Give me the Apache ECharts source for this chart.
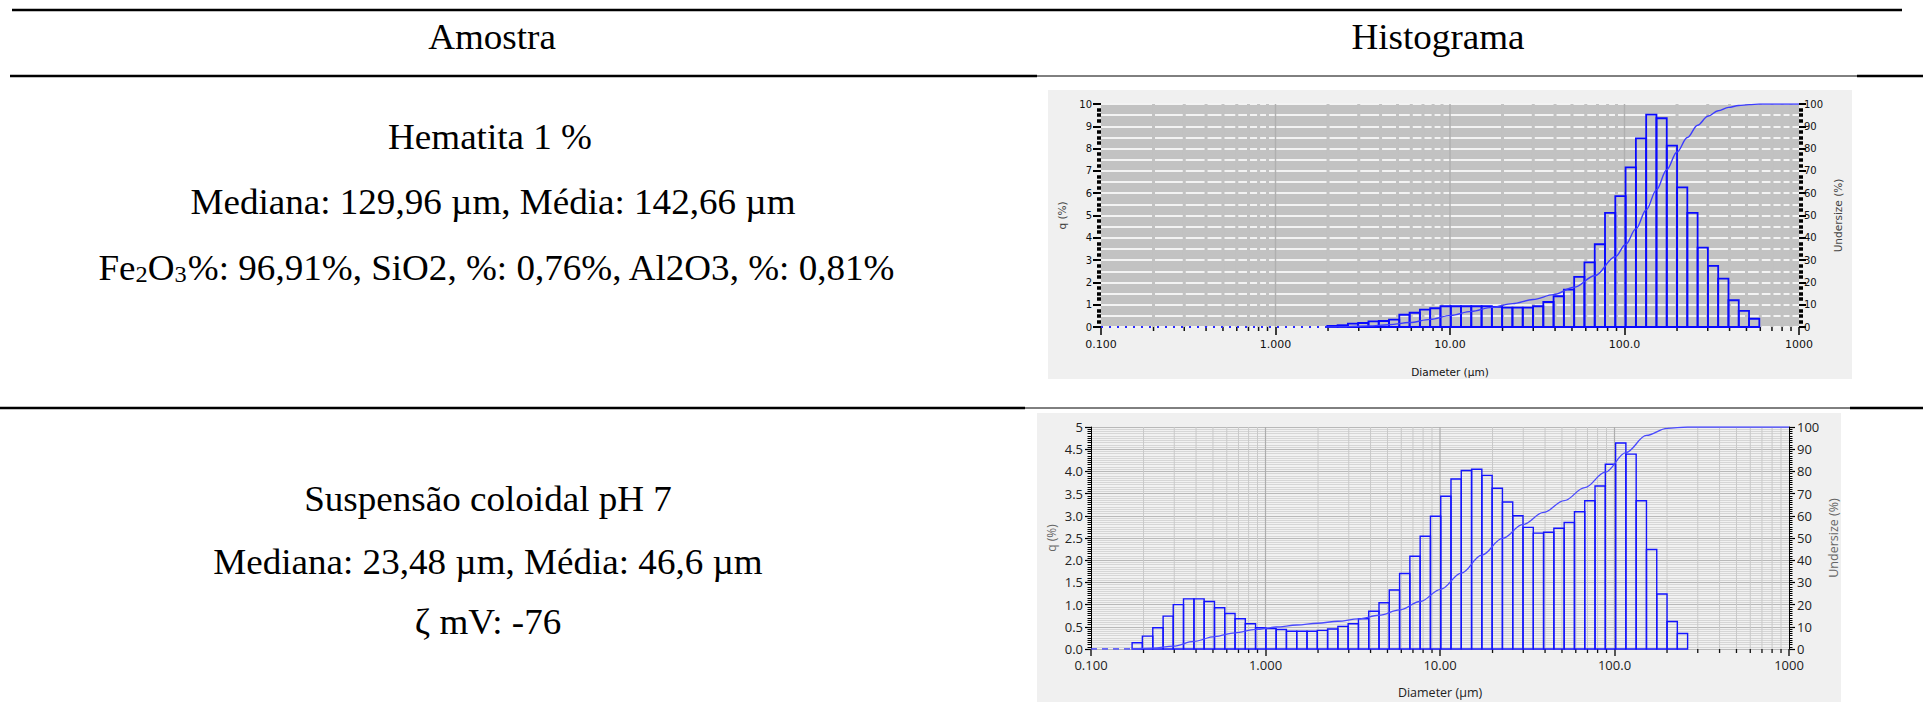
<!DOCTYPE html>
<html><head><meta charset="utf-8">
<script src="https://cdn.jsdelivr.net/npm/echarts@6/dist/echarts.min.js"></script>
<style>html,body{margin:0;padding:0;background:#fff;}#c{width:1923px;height:726px;}</style>
</head><body><div id="c"></div>
<script>
// ---- data ----
const headers = ['Amostra', 'Histograma'];
const sample1Lines = ['Hematita 1 %', 'Mediana: 129,96 µm, Média: 142,66 µm'];
const sample1Chem = '{n|Fe}{s|2}{n|O}{s|3}{n|%: 96,91%, SiO2, %: 0,76%, Al2O3, %: 0,81%}';
const sample2Lines = ['Suspensão coloidal pH 7', 'Mediana: 23,48 µm, Média: 46,6 µm', 'ζ mV: -76'];

const sizeClasses = [0.100,0.115,0.131,0.150,0.172,0.197,0.226,0.259,0.296,0.339,0.389,0.445,0.510,0.584,0.669,0.766,0.877,1.005,1.151,1.318,1.510,1.729,1.981,2.269,2.599,2.976,3.409,3.905,4.472,5.122,5.867,6.720,7.697,8.816,10.10,11.56,13.24,15.17,17.37,19.90,22.79,26.11,29.90,34.25,39.23,44.93,51.47,58.95,67.52,77.33,88.58,101.46,116.21,133.10,152.45,174.62,200.00,229.08,262.38,300.52,344.21,394.24,451.55,517.20,592.38,678.50,777.13,890.11,1019.5];

const hematitaFirstClass = 1.981;
const hematitaQ = [0.05,0.08,0.15,0.18,0.25,0.27,0.33,0.55,0.64,0.78,0.84,0.93,0.93,0.93,0.93,0.93,0.90,0.87,0.87,0.87,0.93,1.12,1.38,1.68,2.25,2.90,3.71,5.12,5.87,7.16,8.46,9.52,9.36,8.13,6.26,5.12,3.56,2.74,2.17,1.20,0.72,0.37];
const hematitaCumX = [1.981,2.599,3.409,4.472,5.867,7.697,10.10,13.24,17.37,22.79,29.90,39.23,51.47,67.52,88.58,101.46,116.21,133.10,152.45,174.62,200.00,229.08,262.38,300.52,344.21,394.24,451.55,517.20,592.38,1000];
const hematitaCumY = [0,0.15,0.5,1.0,2.0,3.4,5.2,7.0,8.8,10.5,12.3,14.5,17.8,23,31.5,37,44,52.5,61.5,70.5,78.5,85,90.5,94.5,97,98.5,99.3,99.7,100,100];

const suspFirstClass = 0.172;
const suspQ = [0.14,0.29,0.48,0.74,1.00,1.13,1.13,1.07,0.93,0.80,0.68,0.57,0.48,0.46,0.44,0.40,0.40,0.40,0.42,0.45,0.51,0.57,0.68,0.85,1.04,1.33,1.70,2.09,2.54,2.99,3.44,3.83,4.02,4.05,3.91,3.62,3.31,3.00,2.74,2.61,2.63,2.72,2.85,3.09,3.34,3.67,4.16,4.64,4.39,3.34,2.24,1.24,0.62,0.35];
const suspCumX = [0.172,0.226,0.296,0.389,0.510,0.669,0.877,1.151,1.510,1.981,2.599,3.409,4.472,5.867,7.697,10.10,13.24,17.37,22.79,29.90,39.23,51.47,67.52,88.58,116.21,152.45,200.00,262.38,1000];
const suspCumY = [0,0.4,1.3,3.4,5.6,7.3,8.8,9.9,10.8,11.6,12.5,13.6,15.2,17.6,21.4,26.9,34.2,42.3,49.8,56.1,61.5,66.8,72.7,79.7,88.5,96.2,99.4,100,100];

const xTickLabels = ['0.100','1.000','10.00','100.0','1000'];
const xName = 'Diameter (µm)';
const yNameLeft = 'q (%)';
const yNameRight = 'Undersize (%)';

// ---- helpers ----
function histData(first, q) {
  const s = sizeClasses.indexOf(first);
  return q.map((v, i) => [sizeClasses[s + i], sizeClasses[s + i + 1], v]);
}
function pairs(xs, ys) { return xs.map((x, i) => [x, ys[i]]); }
const gridPositions = [];
[0.1, 1, 10, 100].forEach((d, di) => {
  if (di > 0) gridPositions.push([d, 0, 1]);
  for (let k = 2; k <= 9; k++) gridPositions.push([+(k * d).toPrecision(3), 0, 0]);
});
const xFmt = v => { const i = Math.round(Math.log10(v)) + 1; return xTickLabels[i] || ''; };

function histSeries(xi, yi, data, color, w) {
  return {
    type: 'custom', xAxisIndex: xi, yAxisIndex: yi, z: 3, silent: true,
    encode: { x: [0, 1], y: 2 },
    data,
    renderItem(params, api) {
      const p0 = api.coord([api.value(0), 0]);
      const p1 = api.coord([api.value(1), api.value(2)]);
      return { type: 'rect', shape: { x: p0[0], y: p1[1], width: p1[0] - p0[0], height: p0[1] - p1[1] },
        style: { fill: 'none', stroke: color, lineWidth: w } };
    }
  };
}
function gridSeries(xi, yi, ymax, minorColor, minorW, majorColor, majorW, tickLen, tickW) {
  return {
    type: 'custom', xAxisIndex: xi, yAxisIndex: yi, z: 1, silent: true,
    encode: { x: 0, y: 1 },
    data: gridPositions,
    renderItem(params, api) {
      const v = api.value(0), major = api.value(2) === 1;
      const top = api.coord([v, ymax]), bot = api.coord([v, 0]);
      const ch = [{ type: 'line', shape: { x1: top[0], y1: top[1], x2: bot[0], y2: bot[1] },
        style: { stroke: major ? majorColor : minorColor, lineWidth: major ? majorW : minorW } }];
      if (!major) ch.push({ type: 'line', shape: { x1: bot[0], y1: bot[1], x2: bot[0], y2: bot[1] + tickLen },
        style: { stroke: '#111', lineWidth: tickW } });
      return { type: 'group', children: ch };
    }
  };
}

const chart = echarts.init(document.getElementById('c'), null, { renderer: 'svg' });

const serif = 'Liberation Serif';
const textScale = 1.06;
function txt(t, x, y) {
  return { type: 'text', x, y, scaleX: textScale, z: 100,
    style: { text: t, fontFamily: serif, fontSize: 35, fill: '#000', align: 'center', verticalAlign: 'middle' } };
}
function hline(x1, x2, y, w) {
  return { type: 'line', z: 50, shape: { x1, y1: y, x2, y2: y }, style: { stroke: '#000', lineWidth: w } };
}

const topFont = 'DejaVu Sans';
const botFont = 'Open Sans';

const option = {
  animation: false,
  backgroundColor: '#fff',
  grid: [
    { left: 1101, top: 104, width: 698, height: 223, show: true, backgroundColor: '#c2c2c2', borderWidth: 0, containLabel: false, outerBoundsMode: 'none' },
    { left: 1091, top: 427, width: 698, height: 222, show: true, backgroundColor: '#f1f1f1', borderWidth: 0, containLabel: false, outerBoundsMode: 'none' }
  ],
  xAxis: [
    { type: 'log', logBase: 10, gridIndex: 0, min: 0.1, max: 1000, splitNumber: 4,
      axisLine: { show: false }, axisTick: { show: true, length: 8, lineStyle: { color: '#000', width: 1.5 } },
      axisLabel: { formatter: xFmt, fontFamily: topFont, fontSize: 11, color: '#111', margin: 12, showMinLabel: true, showMaxLabel: true },
      splitLine: { show: false },
      name: xName, nameLocation: 'middle', nameGap: 39, nameTextStyle: { fontFamily: topFont, fontSize: 10.5, color: '#111' } },
    { type: 'log', logBase: 10, gridIndex: 1, min: 0.1, max: 1000, splitNumber: 4,
      axisLine: { show: false }, axisTick: { show: true, length: 7, lineStyle: { color: '#222', width: 1.5 } },
      axisLabel: { formatter: xFmt, fontFamily: botFont, fontSize: 13, color: '#222', margin: 9, showMinLabel: true, showMaxLabel: true },
      splitLine: { show: false },
      name: xName, nameLocation: 'middle', nameGap: 37, nameTextStyle: { fontFamily: botFont, fontSize: 12.5, color: '#222' } }
  ],
  yAxis: [
    { type: 'value', gridIndex: 0, position: 'left', min: 0, max: 10, interval: 0.5,
      axisLine: { show: false }, axisTick: { show: false }, axisLabel: { show: false },
      splitLine: { show: true, lineStyle: { color: '#f3f3f3', width: 2 } } },
    { type: 'value', gridIndex: 0, position: 'left', min: 0, max: 10, interval: 1,
      axisLine: { show: false },
      axisTick: { show: true, length: 8, lineStyle: { color: '#000', width: 2 } },
      minorTick: { show: true, splitNumber: 4, length: 4, lineStyle: { color: '#000', width: 3.5 } },
      axisLabel: { fontFamily: topFont, fontSize: 10, color: '#111', margin: 9, showMinLabel: true, showMaxLabel: true },
      splitLine: { show: false },
      name: yNameLeft, nameLocation: 'middle', nameRotate: 90, nameGap: 34, nameTextStyle: { fontFamily: topFont, fontSize: 10.5, color: '#444' } },
    { type: 'value', gridIndex: 0, position: 'right', min: 0, max: 100, interval: 10,
      axisLine: { show: false },
      axisTick: { show: true, length: 7, lineStyle: { color: '#000', width: 2 } },
      minorTick: { show: true, splitNumber: 4, length: 4, lineStyle: { color: '#000', width: 3.5 } },
      axisLabel: { fontFamily: topFont, fontSize: 10, color: '#111', margin: 5, showMinLabel: true, showMaxLabel: true },
      splitLine: { show: false },
      name: yNameRight, nameLocation: 'middle', nameRotate: 90, nameGap: 33, nameTextStyle: { fontFamily: topFont, fontSize: 10.5, color: '#444' } },
    { type: 'value', gridIndex: 1, position: 'left', min: 0, max: 5, interval: 0.05,
      axisLine: { show: false }, axisTick: { show: false }, axisLabel: { show: false },
      splitLine: { show: true, lineStyle: { color: '#d6d6d6', width: 1 } } },
    { type: 'value', gridIndex: 1, position: 'left', min: 0, max: 5, interval: 0.5,
      axisLine: { show: true, lineStyle: { color: '#000', width: 1 } },
      axisTick: { show: true, length: 6, lineStyle: { color: '#000', width: 1.2 } },
      minorTick: { show: true, splitNumber: 10, length: 3.5, lineStyle: { color: '#000', width: 1 } },
      axisLabel: { fontFamily: botFont, fontSize: 13, color: '#222', margin: 8, showMinLabel: true, showMaxLabel: true,
        formatter: v => (Math.abs(v - 5) < 1e-9 ? '5' : v.toFixed(1)) },
      splitLine: { show: true, lineStyle: { color: '#b9b9b9', width: 1 } },
      name: yNameLeft, nameLocation: 'middle', nameRotate: 90, nameGap: 34, nameTextStyle: { fontFamily: botFont, fontSize: 12, color: '#666' } },
    { type: 'value', gridIndex: 1, position: 'right', min: 0, max: 100, interval: 10,
      axisLine: { show: true, lineStyle: { color: '#000', width: 1 } },
      axisTick: { show: true, length: 6, lineStyle: { color: '#000', width: 1.2 } },
      minorTick: { show: true, splitNumber: 10, length: 3.5, lineStyle: { color: '#000', width: 1 } },
      axisLabel: { fontFamily: botFont, fontSize: 13, color: '#222', margin: 8, showMinLabel: true, showMaxLabel: true },
      splitLine: { show: false },
      name: yNameRight, nameLocation: 'middle', nameRotate: 90, nameGap: 38, nameTextStyle: { fontFamily: botFont, fontSize: 12.5, color: '#666' } }
  ],
  series: [
    gridSeries(0, 1, 10, '#c2c2c2', 3, '#b0b0b0', 1.5, 4, 1.5),
    histSeries(0, 1, histData(hematitaFirstClass, hematitaQ), '#0a0aff', 1.8),
    { type: 'line', xAxisIndex: 0, yAxisIndex: 2, z: 4, silent: true, showSymbol: false,
      data: [[0.1, 0], [hematitaFirstClass, 0]], lineStyle: { color: '#2a2aff', width: 2, type: [2, 6] } },
    { type: 'line', xAxisIndex: 0, yAxisIndex: 2, z: 4, silent: true, showSymbol: false, smooth: 0.35, smoothMonotone: 'x',
      data: pairs(hematitaCumX, hematitaCumY), lineStyle: { color: '#3c3cff', width: 1.4 } },

    gridSeries(1, 4, 5, '#c9c9c9', 1, '#adadad', 1.2, 4, 1.3),
    histSeries(1, 4, histData(suspFirstClass, suspQ), '#1414ff', 1.4),
    { type: 'line', xAxisIndex: 1, yAxisIndex: 5, z: 4, silent: true, showSymbol: false,
      data: [[0.1, 0], [suspFirstClass, 0]], lineStyle: { color: '#3c3cff', width: 1.5, type: [6, 5] } },
    { type: 'line', xAxisIndex: 1, yAxisIndex: 5, z: 4, silent: true, showSymbol: false, smooth: 0.35, smoothMonotone: 'x',
      data: pairs(suspCumX, suspCumY), lineStyle: { color: '#4a4aff', width: 1.3 } }
  ],
  graphic: [
    { type: 'rect', z: -100, shape: { x: 1048, y: 90, width: 804, height: 289 }, style: { fill: '#f0f0f0' } },
    { type: 'rect', z: -100, shape: { x: 1037, y: 413, width: 804, height: 289 }, style: { fill: '#f0f0f0' } },
    hline(12, 1902, 10, 2.5),
    hline(10, 1037, 76, 2.5), hline(1037, 1857, 76, 1), hline(1857, 1923, 76, 2.5),
    hline(0, 1025, 408, 2.5), hline(1025, 1850, 408, 1), hline(1850, 1923, 408, 2.5),
    txt(headers[0], 492, 37), txt(headers[1], 1438, 37),
    txt(sample1Lines[0], 490, 137), txt(sample1Lines[1], 493, 202),
    { type: 'text', x: 497, y: 266, scaleX: textScale, z: 100,
      style: { text: sample1Chem, fontFamily: serif, fontSize: 35, fill: '#000', align: 'center', verticalAlign: 'middle',
        rich: { n: { fontFamily: serif, fontSize: 35, lineHeight: 40, verticalAlign: 'bottom', fill: '#000' },
                s: { fontFamily: serif, fontSize: 23, lineHeight: 17, verticalAlign: 'bottom', fill: '#000' } } } },
    txt(sample2Lines[0], 488, 499), txt(sample2Lines[1], 488, 562), txt(sample2Lines[2], 488, 622)
  ]
};
chart.setOption(option);
</script></body></html>
